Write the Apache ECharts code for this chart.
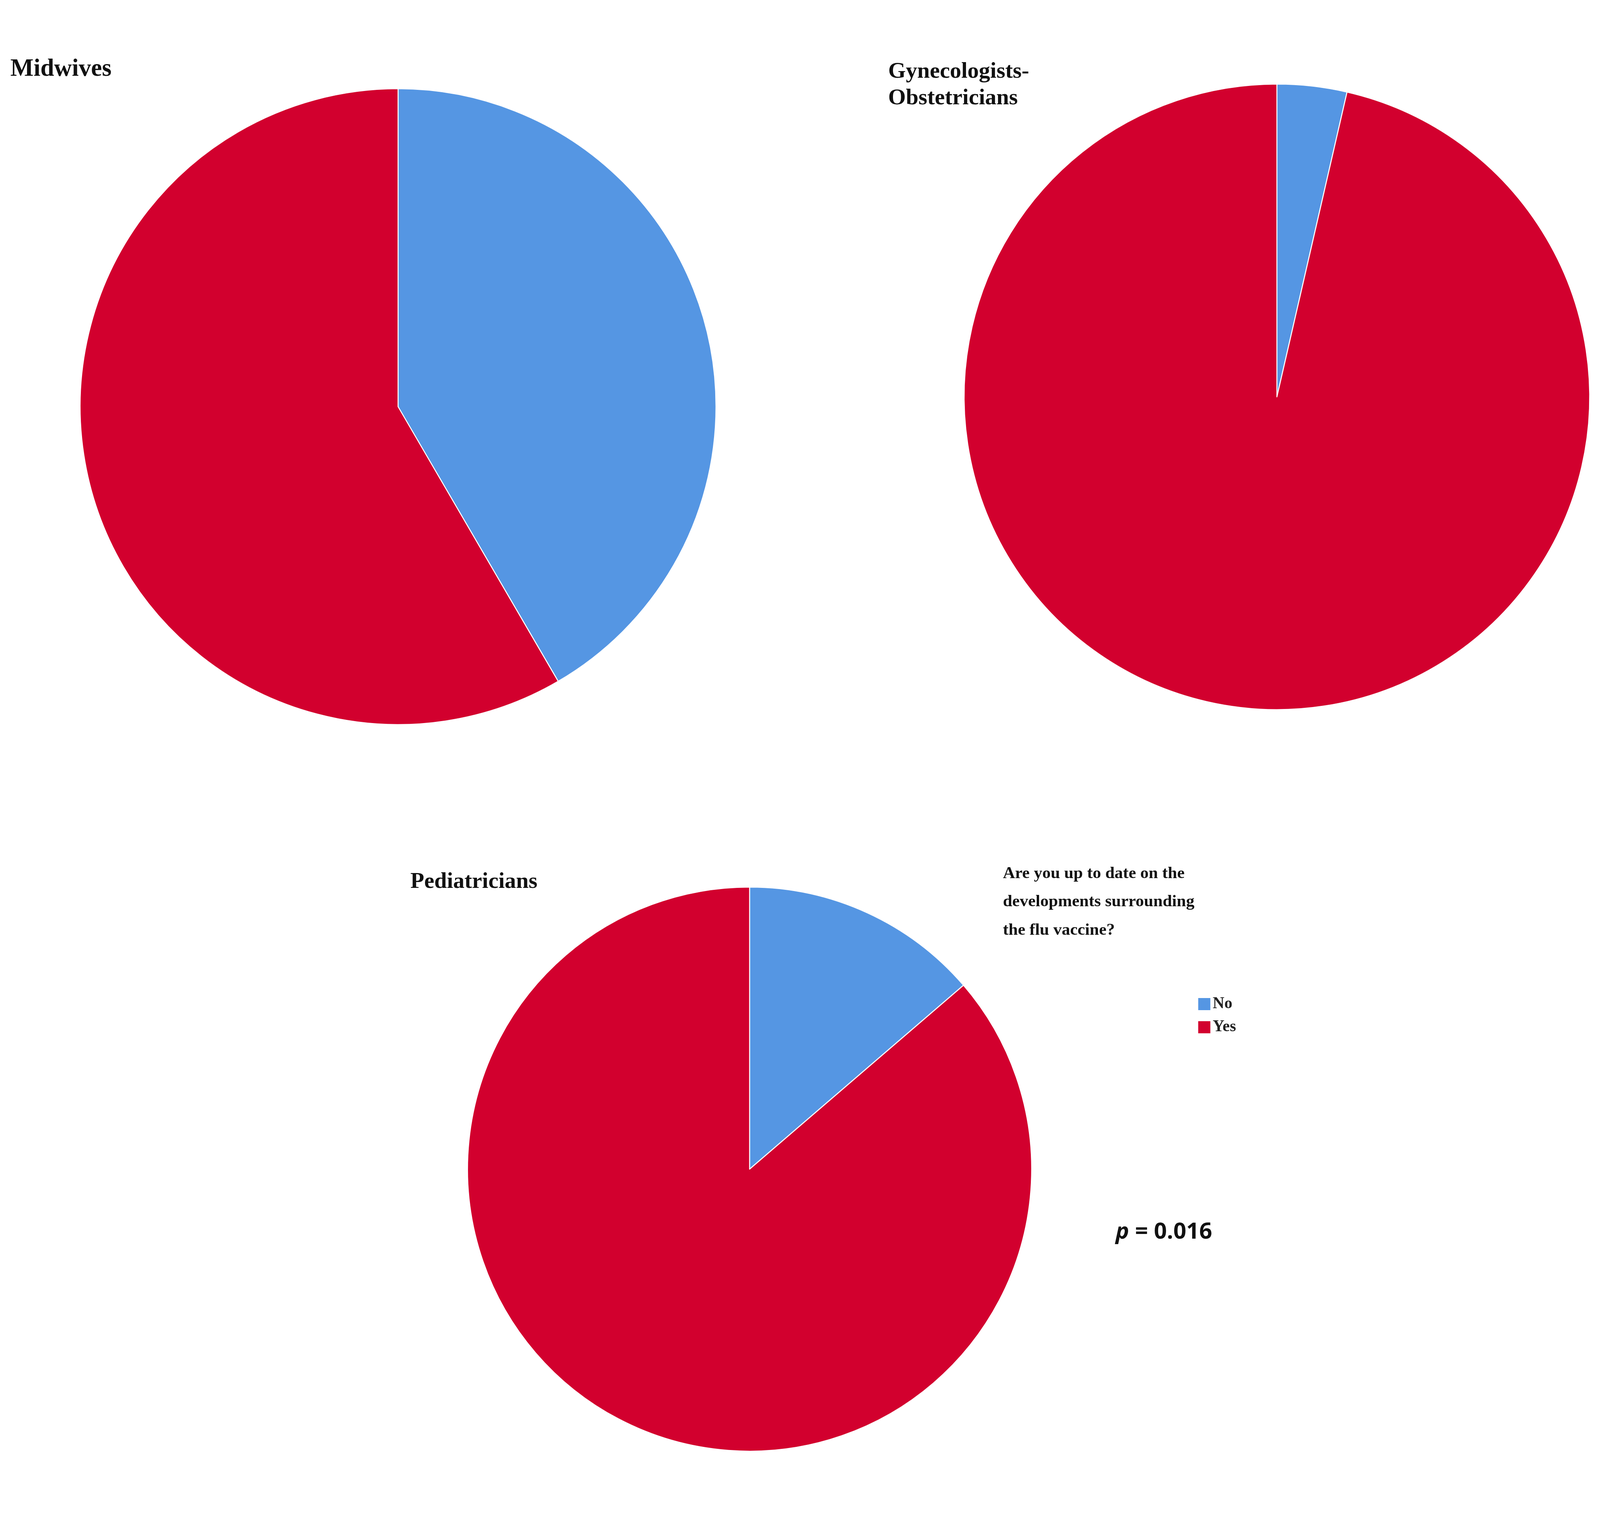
<!DOCTYPE html>
<html><head><meta charset="utf-8">
<script src="https://cdn.jsdelivr.net/npm/echarts@6/dist/echarts.min.js"></script>
<style>html,body{margin:0;background:#fff;overflow:hidden}#c{width:100vw;height:100vh}</style>
</head><body><div id="c"></div>
<script>
const categories = ['No', 'Yes']
const midwives = [41.6, 58.4]
const gynecologists = [3.6, 96.4]
const pediatricians = [13.7, 86.3]
const colors = ['#5596e3', '#d2002e']

// layout measured on a 4952x3881 canvas, scaled to the actual window
const W = window.innerWidth, H = window.innerHeight
const sx = W / 4952, sy = H / 3881, s = Math.min(sx, sy)

function pie(name, vals, cx, cy, r) {
    return {
        type: 'pie', name: name, center: [cx * sx, cy * sy], radius: [0, r * s],
        startAngle: 90, clockwise: true, silent: true,
        label: { show: false }, labelLine: { show: false },
        itemStyle: { borderColor: '#fff', borderWidth: 3 * s },
        data: categories.map((c, i) => ({ name: c, value: vals[i] }))
    }
}
function txt(x, y, text, size, lh, family, extra) {
    return Object.assign({
        type: 'text', left: x * sx, top: y * sy,
        style: { text: text, lineHeight: lh * s, font: 'bold ' + Math.round(size * s) + 'px ' + family, fill: '#111' }
    }, extra || {})
}
const serif = '"Liberation Serif"'
const chart = echarts.init(document.getElementById('c'))
chart.setOption({
    animation: false,
    color: colors,
    legend: {
        orient: 'vertical', left: 3700 * sx, top: 2545 * sy,
        itemWidth: 40 * s, itemHeight: 40 * s, itemGap: 22 * s, icon: 'rect',
        textStyle: { fontFamily: 'Liberation Serif', fontWeight: 'bold', fontSize: 50 * s, color: '#222' },
        data: categories
    },
    series: [
        pie('Midwives', midwives, 1232, 1041, 984),
        pie('Gynecologists-Obstetricians', gynecologists, 3952, 1016, 968),
        pie('Pediatricians', pediatricians, 2320, 2993, 873)
    ],
    graphic: [
        txt(32, 140, 'Midwives', 76, 90, serif),
        txt(2749, 150, 'Gynecologists-\nObstetricians', 70, 82, serif),
        txt(1270, 2225, 'Pediatricians', 70, 80, serif),
        txt(3104, 2200, 'Are you up to date on the\ndevelopments surrounding\nthe flu vaccine?', 52, 88, serif),
        {
            type: 'text', left: 3453 * sx, top: 3125 * sy,
            style: {
                text: '{i|p} = 0.016', font: 'bold ' + Math.round(70 * s) + 'px "Open Sans"', fill: '#111',
                rich: { i: { font: 'italic bold ' + Math.round(70 * s) + 'px "Open Sans"', fill: '#111' } }
            }
        }
    ]
})
</script></body></html>
